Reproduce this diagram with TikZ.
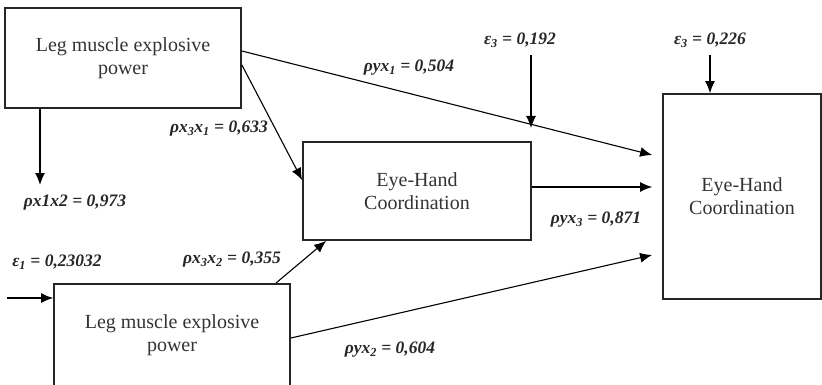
\documentclass[tikz,border=0pt]{standalone}
\usepackage{fontspec}
\setmainfont{Liberation Serif}
\usetikzlibrary{arrows.meta}
\begin{document}
\begin{tikzpicture}[x=1pt,y=-1pt,
  box/.style={draw=black!85,line width=1.8pt,rectangle,inner sep=0pt,align=center,font=\rmfamily\fontsize{20}{23}\selectfont,text=black!80},
  conn/.style={line width=1.1pt,-{Latex[length=12pt,width=10pt]}},
  lab/.style={font=\rmfamily\fontsize{17.5}{20}\selectfont\bfseries\itshape,text=black!85,inner sep=0pt}]
\useasboundingbox (0,0) rectangle (822,385);
\node[box,minimum width=236pt,minimum height=100pt] (A) at (123,58) {Leg muscle explosive\\power};
\node[box,minimum width=236pt,minimum height=102pt] (B) at (172,335) {Leg muscle explosive\\power};
\node[box,minimum width=228pt,minimum height=98pt] (C) at (417,191) {Eye-Hand\\Coordination};
\node[box,minimum width=158pt,minimum height=205pt] (D) at (742,196.5) {Eye-Hand\\Coordination};
% free ends
\coordinate (a1) at (40,185);
\coordinate (e1s) at (7,298);
\coordinate (e2s) at (531,55);
\coordinate (e2e) at (531,128);
\coordinate (e3s) at (710,55);
% connectors
\draw[conn] ([xshift=-83pt]A.south) -- (a1);
\draw[conn] ([yshift=7pt]A.east) -- ([xshift=-10pt,yshift=41.5pt]D.west);
\draw[conn] ([yshift=-7pt]A.east) -- ([yshift=11pt]C.west);
\draw[conn] ([yshift=4pt]C.east) -- ([xshift=-10pt,yshift=9.5pt]D.west);
\draw[conn] ([yshift=-3pt]B.east) -- ([xshift=-10pt,yshift=-58.5pt]D.west);
\draw[conn] ([xshift=-15pt]B.north east) -- ([xshift=24pt]C.south west);
\draw[conn] (e1s) -- ([yshift=37pt]B.west);
\draw[conn] (e2s) -- (e2e);
\draw[conn] (e3s) -- ([xshift=-32pt]D.north);
% labels
\node[lab] (l1) at (75,203) {ρx1x2 = 0,973};
\node[lab] (l2) at (57,262) {ε\textsubscript{1} = 0,23032};
\node[lab] (l3) at (232,260) {ρx\textsubscript{3}x\textsubscript{2} = 0,355};
\node[lab] (l4) at (219,129) {ρx\textsubscript{3}x\textsubscript{1} = 0,633};
\node[lab] (l5) at (409,68) {ρyx\textsubscript{1} = 0,504};
\node[lab] (l6) at (520,40) {ε\textsubscript{3} = 0,192};
\node[lab] (l7) at (710,40) {ε\textsubscript{3} = 0,226};
\node[lab] (l8) at (596,220) {ρyx\textsubscript{3} = 0,871};
\node[lab] (l9) at (390,350) {ρyx\textsubscript{2} = 0,604};
\end{tikzpicture}
\end{document}
